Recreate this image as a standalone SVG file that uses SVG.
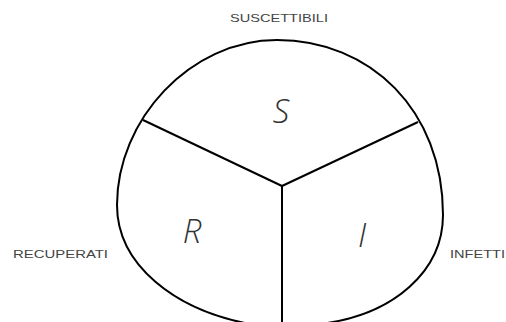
<svg xmlns="http://www.w3.org/2000/svg" width="506" height="322" viewBox="0 0 506 322">
<style>
.edge{fill:none;stroke:#000;stroke-width:2;stroke-linejoin:round}
.lbl{font-family:"Liberation Sans",sans-serif;font-size:11px;fill:#444}
.big{font-family:"Open Sans","Liberation Sans",sans-serif;font-size:33px;font-style:italic;font-weight:300;fill:#333;text-anchor:middle}
</style>
<rect width="506" height="322" fill="#fff"/>
<g id="outline">
<path class="edge" d="M 250,324 C 175,310 117,265 117,205 C 117,120 190,40 277,40 C 370,40 443,110 443,215 C 443,270 395,315 320,324"/>
</g>
<g id="connectors">
<line class="edge" x1="282" y1="186" x2="143" y2="120"/>
<line class="edge" x1="282" y1="186" x2="418" y2="122"/>
<line class="edge" x1="282" y1="186" x2="282" y2="322"/>
</g>
<g id="node-S"><text class="big" x="281" y="123">S</text></g>
<g id="node-R"><text class="big" x="192" y="243">R</text></g>
<g id="node-I"><text class="big" x="362" y="247">I</text></g>
<g id="label-S"><text class="lbl" x="230" y="22" textLength="98" lengthAdjust="spacingAndGlyphs">SUSCETTIBILI</text></g>
<g id="label-R"><text class="lbl" x="13" y="258" textLength="95" lengthAdjust="spacingAndGlyphs">RECUPERATI</text></g>
<g id="label-I"><text class="lbl" x="450" y="258" textLength="55" lengthAdjust="spacingAndGlyphs">INFETTI</text></g>
</svg>
